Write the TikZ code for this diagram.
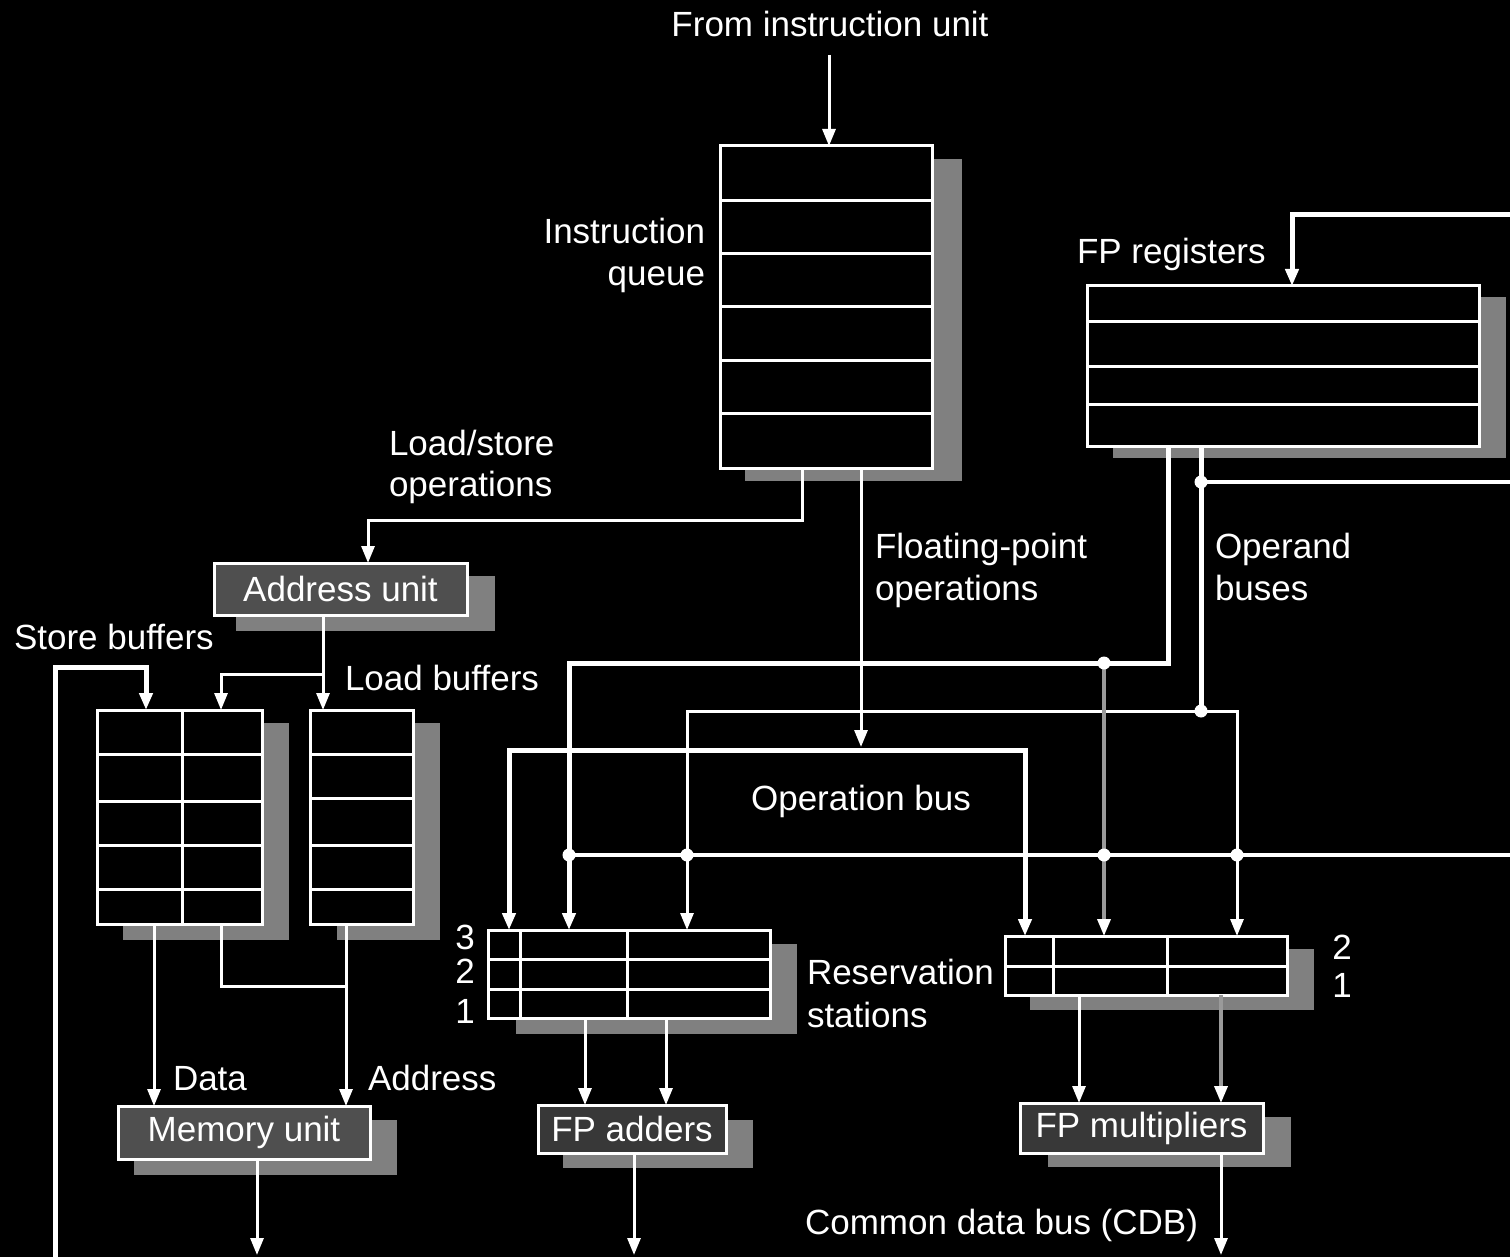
\documentclass[tikz,border=0pt]{standalone}
\usepackage{fontspec}
\setmainfont{Liberation Sans}
\usetikzlibrary{arrows.meta}
\pgfdeclarelayer{bg}
\pgfdeclarelayer{shadow}
\pgfsetlayers{bg,shadow,main}
\definecolor{shadowc}{HTML}{808080}
\definecolor{unitc}{HTML}{4F4F4F}
\definecolor{unitd}{HTML}{383838}
\definecolor{grayline}{HTML}{9A9A9A}
\begin{document}
\begin{tikzpicture}[x=1pt,y=-1pt,
  every node/.style={font=\fontsize{35}{43}\selectfont, text=white},
  tbl/.style={draw=white, fill=black, line width=3pt, inner sep=0pt, outer sep=0pt, anchor=north west},
  unit/.style={draw=white, fill=unitc, line width=3pt, inner sep=0pt, outer sep=0pt},
  txt/.style={inner sep=0pt, outer sep=0pt},
  grid/.style={draw=white, line width=3pt},
  wire/.style={draw=white, line width=3pt},
  wirefive/.style={draw=white, line width=5pt},
  wirefour/.style={draw=white, line width=4pt},
  graywire/.style={draw=grayline, line width=3.5pt},
  arr/.style={-{Triangle[length=17pt,width=13pt,color=white]}},
  arrboth/.style={{Triangle[length=17pt,width=13pt,color=white]}-{Triangle[length=17pt,width=13pt,color=white]}},
  junction/.style={fill=white}
]
\useasboundingbox (0,0) rectangle (1510,1257);
\begin{pgfonlayer}{bg}
\fill[black] (0,0) rectangle (1510,1257);
\end{pgfonlayer}

% ---------- tables ----------
\node[tbl, minimum width=212pt, minimum height=322pt] (iq) at (720,146) {};
\node[tbl, minimum width=392pt, minimum height=160pt] (fpr) at (1087,286) {};
\node[tbl, minimum width=165pt, minimum height=214pt] (sb) at (97,710) {};
\node[tbl, minimum width=103pt, minimum height=214pt] (lb) at (310,710) {};
\node[tbl, minimum width=282pt, minimum height=88pt] (rsa) at (488,930) {};
\node[tbl, minimum width=282pt, minimum height=59pt] (rsm) at (1005,936) {};

\foreach \y in {201,254,307,360,413} \draw[grid] (iq.west |- 0,\y) -- (iq.east |- 0,\y);
\foreach \y in {322,366,404} \draw[grid] (fpr.west |- 0,\y) -- (fpr.east |- 0,\y);
\foreach \y in {754,801,845,889} \draw[grid] (sb.west |- 0,\y) -- (sb.east |- 0,\y);
\draw[grid] (sb.north -| 182,0) -- (sb.south -| 182,0);
\foreach \y in {754,798,845,889} \draw[grid] (lb.west |- 0,\y) -- (lb.east |- 0,\y);
\foreach \y in {959,989} \draw[grid] (rsa.west |- 0,\y) -- (rsa.east |- 0,\y);
\foreach \x in {520,627} \draw[grid] (rsa.north -| \x,0) -- (rsa.south -| \x,0);
\draw[grid] (rsm.west |- 0,966) -- (rsm.east |- 0,966);
\foreach \x in {1053,1167} \draw[grid] (rsm.north -| \x,0) -- (rsm.south -| \x,0);

% ---------- units ----------
\node[unit, minimum width=253pt, minimum height=52pt] (au) at (340.5,589) {Address unit};
\node[unit, minimum width=252pt, minimum height=53pt] (mu) at (244,1132.5) {Memory unit};
\node[unit, fill=unitd, minimum width=188pt, minimum height=48pt] (fa) at (632,1129) {FP adders};
\node[unit, fill=unitd, minimum width=243pt, minimum height=50pt] (fm) at (1141.5,1128) {FP multipliers};

% ---------- shadows ----------
\begin{pgfonlayer}{shadow}
\fill[shadowc] ([shift={(25,13)}]iq.north west) rectangle ([shift={(30,13)}]iq.south east);
\fill[shadowc] ([shift={(26,11)}]fpr.north west) rectangle ([shift={(27,12)}]fpr.south east);
\fill[shadowc] ([shift={(26,13)}]sb.north west) rectangle ([shift={(27,16)}]sb.south east);
\fill[shadowc] ([shift={(27,13)}]lb.north west) rectangle ([shift={(27,16)}]lb.south east);
\fill[shadowc] ([shift={(28,14)}]rsa.north west) rectangle ([shift={(27,16)}]rsa.south east);
\fill[shadowc] ([shift={(25,13)}]rsm.north west) rectangle ([shift={(27,15)}]rsm.south east);
\fill[shadowc] ([shift={(22,13)}]au.north west) rectangle ([shift={(28,16)}]au.south east);
\fill[shadowc] ([shift={(16,14)}]mu.north west) rectangle ([shift={(27,16)}]mu.south east);
\fill[shadowc] ([shift={(25,15)}]fa.north west) rectangle ([shift={(27,15)}]fa.south east);
\fill[shadowc] ([shift={(28,14)}]fm.north west) rectangle ([shift={(28,14)}]fm.south east);
\end{pgfonlayer}

% ---------- labels ----------
\node[txt, anchor=base] (tfrom) at (830,37) {From instruction unit};
\node[txt, anchor=base east] (tiq1) at (705,244) {Instruction};
\node[txt, anchor=base east] (tiq2) at (705,286) {queue};
\node[txt, anchor=base west] (tls1) at (389,455) {Load/store};
\node[txt, anchor=base west] (tls2) at (389,496) {operations};
\node[txt, anchor=base west] (tfp1) at (875,558) {Floating-point};
\node[txt, anchor=base west] (tfp2) at (875,600) {operations};
\node[txt, anchor=base west] (tob1) at (1215,558) {Operand};
\node[txt, anchor=base west] (tob2) at (1215,600) {buses};
\node[txt, anchor=base west] (tfpr) at (1077,264) {FP registers};
\node[txt, anchor=base west] (tsb) at (14,649) {Store buffers};
\node[txt, anchor=base west] (tlb) at (345,690) {Load buffers};
\node[txt, anchor=base] (topb) at (861,810) {Operation bus};
\node[txt, anchor=base west] (trs1) at (807,984) {Reservation};
\node[txt, anchor=base west] (trs2) at (807,1027) {stations};
\node[txt, anchor=base] (ta3) at (465,949) {3};
\node[txt, anchor=base] (ta2) at (465,983) {2};
\node[txt, anchor=base] (ta1) at (465,1023) {1};
\node[txt, anchor=base] (tm2) at (1342,959) {2};
\node[txt, anchor=base] (tm1) at (1342,997) {1};
\node[txt, anchor=base west] (tdata) at (173,1090) {Data};
\node[txt, anchor=base west] (taddr) at (368,1090) {Address};
\node[txt, anchor=base east] (tcdb) at (1198,1234) {Common data bus (CDB)};

% ---------- connectors ----------
\coordinate (iqin) at (829,55);
\draw[wire, arr] (iqin) -- (iq.north -| iqin);

\draw[wire, arr] (iq.south -| 802,0) |- (368,520) -- (au.north -| 368,0);
\draw[wire, arr] (iq.south -| 861,0) -- (861,747);

% operation bus
\draw[wirefive, arrboth] (rsa.north -| 509,0) |- (1025,750) -- (rsm.north -| 1025,0);

% FP registers -> bus to adder RS
\draw[wirefive, arr] (fpr.south -| 1168,0) |- (569,663) -- (rsa.north -| 569,0);

% operand bus
\draw[wirefive] (fpr.south -| 1201,0) -- (1201,711);
\draw[wire, arrboth] (rsa.north -| 687,0) |- (1237,711) -- (rsm.north -| 1237,0);
\draw[wirefour] (1201,482) -- (1512,482);

% CDB horizontal to reservation stations
\draw[wirefour] (569,855) -- (1512,855);

% gray operand line into multiplier RS
\draw[graywire, arr] (1104,663) -- (rsm.north -| 1104,0);

% CDB into FP registers
\draw[wirefive, arr] (1515,215) -| (fpr.north -| 1292,0);

% CDB into store buffers
\draw[wirefive, arr] (55,1262) |- (146,667) -- (sb.north -| 146,0);

% address unit to buffers
\draw[wire] (au.south -| 323,0) -- (323,674);
\draw[wire, arrboth] (sb.north -| 221,0) |- (323,674) -- (lb.north -| 323,0);

% buffers to memory unit
\draw[wire, arr] (sb.south -| 154,0) -- (mu.north -| 154,0);
\draw[wire] (sb.south -| 221,0) |- (346,986);
\draw[wire, arr] (lb.south -| 346,0) -- (mu.north -| 346,0);
\draw[wire, arr] (mu.south -| 257,0) -- (257,1255);

% adders
\draw[wire, arr] (rsa.south -| 585,0) -- (fa.north -| 585,0);
\draw[wire, arr] (rsa.south -| 666,0) -- (fa.north -| 666,0);
\draw[wire, arr] (fa.south -| 634,0) -- (634,1255);

% multipliers
\draw[wire, arr] (rsm.south -| 1079,0) -- (fm.north -| 1079,0);
\draw[graywire, arr] (rsm.south -| 1221,0) -- (fm.north -| 1221,0);
\draw[wire, arr] (fm.south -| 1221,0) -- (1221,1255);

% junction dots
\foreach \p in {(569,855),(687,855),(1104,855),(1237,855),(1201,711),(1104,663),(1201,482)}
  \fill[junction] \p circle[radius=6.5pt];
\end{tikzpicture}
\end{document}
